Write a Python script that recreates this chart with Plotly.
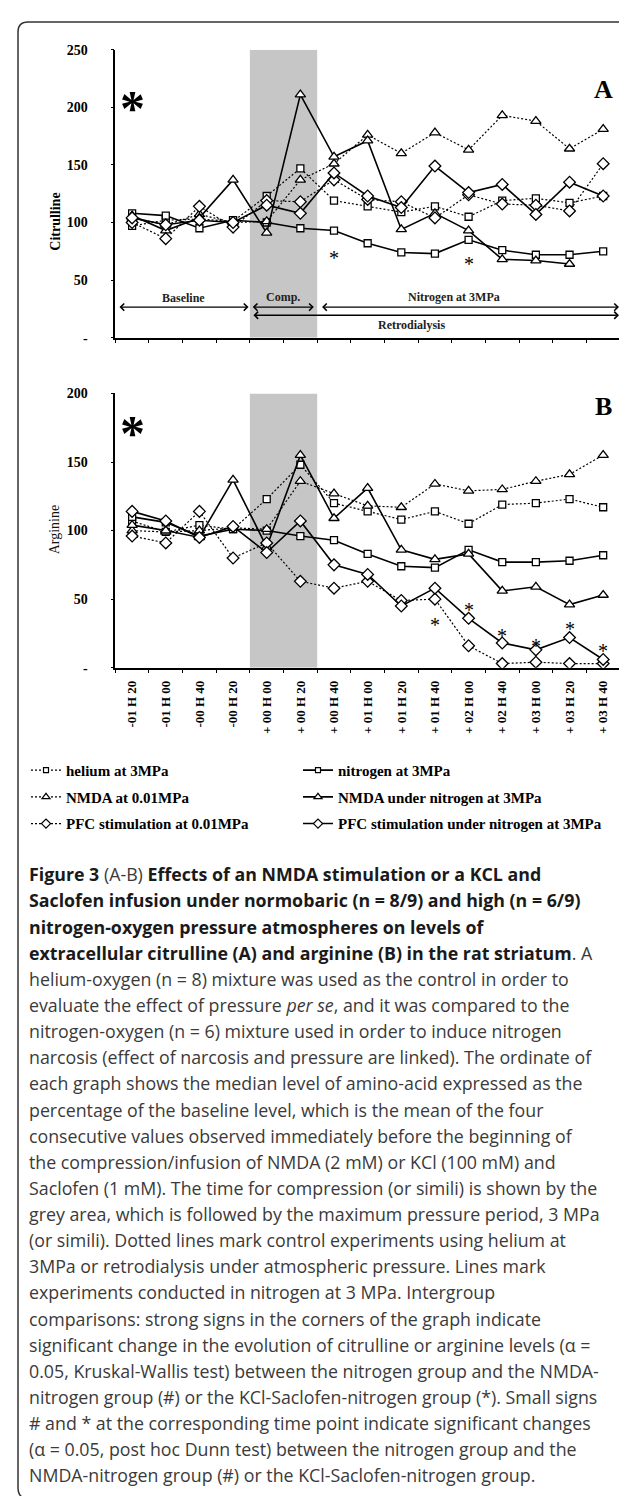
import plotly.graph_objects as go

W, H = 627, 1496

categories = ["-01 H 20", "-01 H 00", "-00 H 40", "-00 H 20", "+ 00 H 00", "+ 00 H 20",
              "+ 00 H 40", "+ 01 H 00", "+ 01 H 20", "+ 01 H 40", "+ 02 H 00", "+ 02 H 40",
              "+ 03 H 00", "+ 03 H 20", "+ 03 H 40"]

series_names = ["helium at 3MPa", "nitrogen at 3MPa", "NMDA at 0.01MPa",
                "NMDA under nitrogen at 3MPa", "PFC stimulation at 0.01MPa",
                "PFC stimulation under nitrogen at 3MPa"]

# Panel A - citrulline (% of baseline)
helium_A = [97, 102, 103, 101, 123, 147, 119, 114, 109, 114, 105, 119, 121, 117, 123]
nitrogen_A = [108, 106, 95, 102, 100, 95, 93, 82, 74, 73, 85, 76, 72, 72, 75]
nmda001_A = [104, 98, 107, 100, 101, 137, 151, 176, 160, 178, 163, 193, 188, 164, 181]
nmdaN2_A = [106, 93, 104, 137, 91, 211, 157, 171, 94, 108, 93, 68, 67, 64, None]
pfc001_A = [100, 86, 114, 96, 119, 118, 137, 120, 118, 104, 124, 116, 115, 110, 151]
pfcN2_A = [104, 98, 102, 100, 115, 108, 143, 123, 113, 149, 126, 133, 107, 135, 123]

# Panel B - arginine (% of baseline)
helium_B = [107, 99, 104, 101, 123, 148, 120, 114, 108, 114, 105, 119, 120, 123, 117]
nitrogen_B = [110, 106, 96, 101, 100, 96, 93, 83, 74, 73, 86, 77, 77, 78, 82]
nmda001_B = [100, 99, 100, 102, 101, 136, 127, 118, 117, 134, 129, 130, 136, 141, 155]
nmdaN2_B = [104, 100, 95, 137, 88, 155, 109, 131, 86, 79, 83, 56, 59, 46, 53]
pfc001_B = [96, 91, 114, 80, 91, 63, 58, 63, 49, 50, 16, 3, 4, 3, 3]
pfcN2_B = [114, 107, 95, 103, 84, 107, 75, 68, 45, 58, 36, 18, 13, 22, 6]

# significance marks (time-point index, level)
sigA_idx = [6, 10]
sigA_val = [75, 70]
sigB_idx = [9, 10, 11, 12, 13, 14]
sigB_val = [36, 47, 28, 21, 33, 17]

yticksA = [0, 50, 100, 150, 200, 250]
yticksB = [0, 50, 100, 150, 200]

SERIF = "Liberation Serif"
DOT = "2px,2px"
styles = [
    dict(dash=DOT, symbol="square", size=7, width=1.2),
    dict(dash="solid", symbol="square", size=7, width=1.6),
    dict(dash=DOT, symbol="triangle-up", size=9, width=1.2),
    dict(dash="solid", symbol="triangle-up", size=9, width=1.6),
    dict(dash=DOT, symbol="diamond", size=9, width=1.2),
    dict(dash="solid", symbol="diamond", size=9, width=1.6),
]

fig = go.Figure()
dataA = [helium_A, nitrogen_A, nmda001_A, nmdaN2_A, pfc001_A, pfcN2_A]
dataB = [helium_B, nitrogen_B, nmda001_B, nmdaN2_B, pfc001_B, pfcN2_B]
for panel, data in (("A", dataA), ("B", dataB)):
    for k, vals in enumerate(data):
        st = styles[k]
        fig.add_trace(go.Scatter(
            x=categories, y=vals, name=series_names[k],
            mode="lines+markers",
            line=dict(color="black", dash=st["dash"], width=st["width"]),
            marker=dict(symbol=st["symbol"], size=st["size"], color="white",
                        line=dict(color="black", width=1.3)),
            xaxis="x" if panel == "A" else "x2",
            yaxis="y" if panel == "A" else "y2",
            showlegend=False, connectgaps=False,
        ))

# legend entries (one legend box per entry so each sits where the original puts it)
for k in range(6):
    st = styles[k]
    fig.add_trace(go.Scatter(
        x=[None], y=[None], name=series_names[k], mode="lines+markers",
        line=dict(color="black", dash=st["dash"], width=st["width"]),
        marker=dict(symbol=st["symbol"], size=st["size"] - 2, color="white",
                    line=dict(color="black", width=1.2)),
        showlegend=True, legend="legend" if k == 0 else f"legend{k + 1}",
    ))

def px_x(x):
    return x / W

def px_y(y):
    return 1 - y / H

xdom = [px_x(107.3), px_x(612)]
tickfont = dict(family=SERIF, size=14, color="black", weight="bold")
common_x = dict(type="category", categoryorder="array", categoryarray=categories,
                range=[-0.5, 14.5], tickson="boundaries", ticks="outside", ticklen=4,
                tickcolor="black", showline=True, linecolor="black", linewidth=1.5,
                showgrid=False, zeroline=False, domain=xdom, fixedrange=True)
common_y = dict(ticks="outside", ticklen=3, tickcolor="black", showline=True,
                linecolor="black", linewidth=1.5, showgrid=False, zeroline=False,
                tickfont=tickfont, ticklabelstandoff=20)

fig.update_layout(
    width=W, height=H, margin=dict(l=0, r=0, t=0, b=0),
    paper_bgcolor="white", plot_bgcolor="rgba(0,0,0,0)",
    xaxis=dict(common_x, anchor="y", showticklabels=False),
    yaxis=dict(common_y, domain=[px_y(326), px_y(35)], range=[0, 250], tickvals=yticksA,
               ticktext=["-" if v == 0 else str(v) for v in yticksA], anchor="x"),
    xaxis2=dict(common_x, anchor="y2", tickangle=-90, ticklabelstandoff=6,
                tickfont=dict(family=SERIF, size=13, color="black", weight="bold")),
    yaxis2=dict(common_y, domain=[px_y(659.3), px_y(382.3)], range=[0, 200], tickvals=yticksB,
                ticktext=["-" if v == 0 else str(v) for v in yticksB], anchor="x2"),
)

legend_common = dict(orientation="h", xanchor="left", yanchor="middle",
                     itemwidth=30, bgcolor="rgba(0,0,0,0)",
                     font=dict(family=SERIF, size=15, color="black", weight="bold"))
leg_x = [18, 290]
leg_y = [763, 790, 817]
legends = {}
for k in range(6):
    key = "legend" if k == 0 else f"legend{k + 1}"
    legends[key] = dict(legend_common, x=px_x(leg_x[k % 2]), y=px_y(leg_y[k // 2]))
fig.update_layout(**legends)

# grey compression area
fig.add_shape(type="rect", xref="x", yref="y", x0=3.5, x1=5.5, y0=0, y1=250,
              fillcolor="#c6c6c6", line=dict(width=0), layer="below")
fig.add_shape(type="rect", xref="x2", yref="y2", x0=3.5, x1=5.5, y0=0, y1=200,
              fillcolor="#c6c6c6", line=dict(width=0), layer="below")

# outer frame
fy = lambda y: 1 - y / H
fx = lambda x: x / W
path = (f"M {fx(640)},{fy(7)} L {fx(20)},{fy(7)} Q {fx(10)},{fy(7)} {fx(10)},{fy(17)} "
        f"L {fx(10)},{fy(1488)} Q {fx(10)},{fy(1496)} {fx(16)},{fy(1498)}")
fig.add_shape(type="path", xref="paper", yref="paper", path=path,
              line=dict(color="#333333", width=1.5))

ann = []
lab_font = dict(family=SERIF, size=12, color="#222222", weight="bold")

def arrow(x0, x1, y):
    return dict(x=x1, y=y, ax=x0, ay=y, xref="x", yref="y", axref="x", ayref="y", text="",
                showarrow=True, arrowhead=4, startarrowhead=4, arrowside="end+start",
                arrowsize=1, arrowwidth=1.4, arrowcolor="black", standoff=0, startstandoff=0)

ann.append(arrow(-0.42, 3.46, 26.6))
ann.append(arrow(3.54, 5.4, 26.6))
ann.append(arrow(5.6, 14.47, 26.6))
ann.append(arrow(3.56, 14.47, 19.5))
for txt, x, y in (("Baseline", 1.52, 34.5), ("Comp.", 4.48, 35), ("Nitrogen at 3MPa", 9.58, 35.2),
                  ("Retrodialysis", 8.3, 10.9)):
    ann.append(dict(x=x, y=y, xref="x", yref="y", text=txt, showarrow=False, font=lab_font,
                    xanchor="center", yanchor="middle"))

# panel letters and big significance signs
ann.append(dict(x=14.0, y=218.5, xref="x", yref="y", text="A", showarrow=False,
                font=dict(family=SERIF, size=26, color="black", weight="bold"), yshift=-4))
ann.append(dict(x=14.0, y=193.2, xref="x2", yref="y2", text="B", showarrow=False,
                font=dict(family=SERIF, size=26, color="black", weight="bold"), yshift=-4))
ann.append(dict(x=0, y=215.6, xref="x", yref="y", text="*", showarrow=False,
                font=dict(family=SERIF, size=50, color="black", weight="bold"), yshift=-19))
ann.append(dict(x=0, y=184.8, xref="x2", yref="y2", text="*", showarrow=False,
                font=dict(family=SERIF, size=50, color="black", weight="bold"), yshift=-19))
for i, v in zip(sigA_idx, sigA_val):
    ann.append(dict(x=i, y=v, xref="x", yref="y", text="*", showarrow=False,
                    font=dict(family=SERIF, size=20, color="black"), yshift=-7))
for i, v in zip(sigB_idx, sigB_val):
    ann.append(dict(x=i, y=v, xref="x2", yref="y2", text="*", showarrow=False,
                    font=dict(family=SERIF, size=20, color="black"), yshift=-7))

# y-axis titles
ann.append(dict(x=px_x(38), y=px_y(178), xref="paper", yref="paper", text="Citrulline",
                textangle=-90, showarrow=False,
                font=dict(family=SERIF, size=14, color="black", weight="bold")))
ann.append(dict(x=px_x(37), y=px_y(520), xref="paper", yref="paper", text="Arginine",
                textangle=-90, showarrow=False,
                font=dict(family=SERIF, size=14, color="#111111")))

# caption
B = '<span style="color:#1a1a1a"><b>'
E = '</b></span>'
caption_lines = [
    f"{B}Figure 3{E} (A-B) {B}Effects of an NMDA stimulation or a KCL and{E}",
    f"{B}Saclofen infusion under normobaric (n = 8/9) and high (n = 6/9){E}",
    f"{B}nitrogen-oxygen pressure atmospheres on levels of{E}",
    f"{B}extracellular citrulline (A) and arginine (B) in the rat striatum{E}. A",
    "helium-oxygen (n = 8) mixture was used as the control in order to",
    "evaluate the effect of pressure <i>per se</i>, and it was compared to the",
    "nitrogen-oxygen (n = 6) mixture used in order to induce nitrogen",
    "narcosis (effect of narcosis and pressure are linked). The ordinate of",
    "each graph shows the median level of amino-acid expressed as the",
    "percentage of the baseline level, which is the mean of the four",
    "consecutive values observed immediately before the beginning of",
    "the compression/infusion of NMDA (2 mM) or KCl (100 mM) and",
    "Saclofen (1 mM). The time for compression (or simili) is shown by the",
    "grey area, which is followed by the maximum pressure period, 3 MPa",
    "(or simili). Dotted lines mark control experiments using helium at",
    "3MPa or retrodialysis under atmospheric pressure. Lines mark",
    "experiments conducted in nitrogen at 3 MPa. Intergroup",
    "comparisons: strong signs in the corners of the graph indicate",
    "significant change in the evolution of citrulline or arginine levels (α =",
    "0.05, Kruskal-Wallis test) between the nitrogen group and the NMDA-",
    "nitrogen group (#) or the KCl-Saclofen-nitrogen group (*). Small signs",
    "# and * at the corresponding time point indicate significant changes",
    "(α = 0.05, post hoc Dunn test) between the nitrogen group and the",
    "NMDA-nitrogen group (#) or the KCl-Saclofen-nitrogen group.",
]
cap_y0, cap_dy = 868, 26.4
for n, line in enumerate(caption_lines):
    ann.append(dict(x=px_x(19), y=px_y(cap_y0 + n * cap_dy), xref="paper", yref="paper",
                    text=line, showarrow=False, xanchor="left", yanchor="middle", align="left",
                    font=dict(family="Open Sans", size=17.8, color="#3a3a3a")))

fig.update_layout(annotations=ann)
fig.write_html("out.html")
